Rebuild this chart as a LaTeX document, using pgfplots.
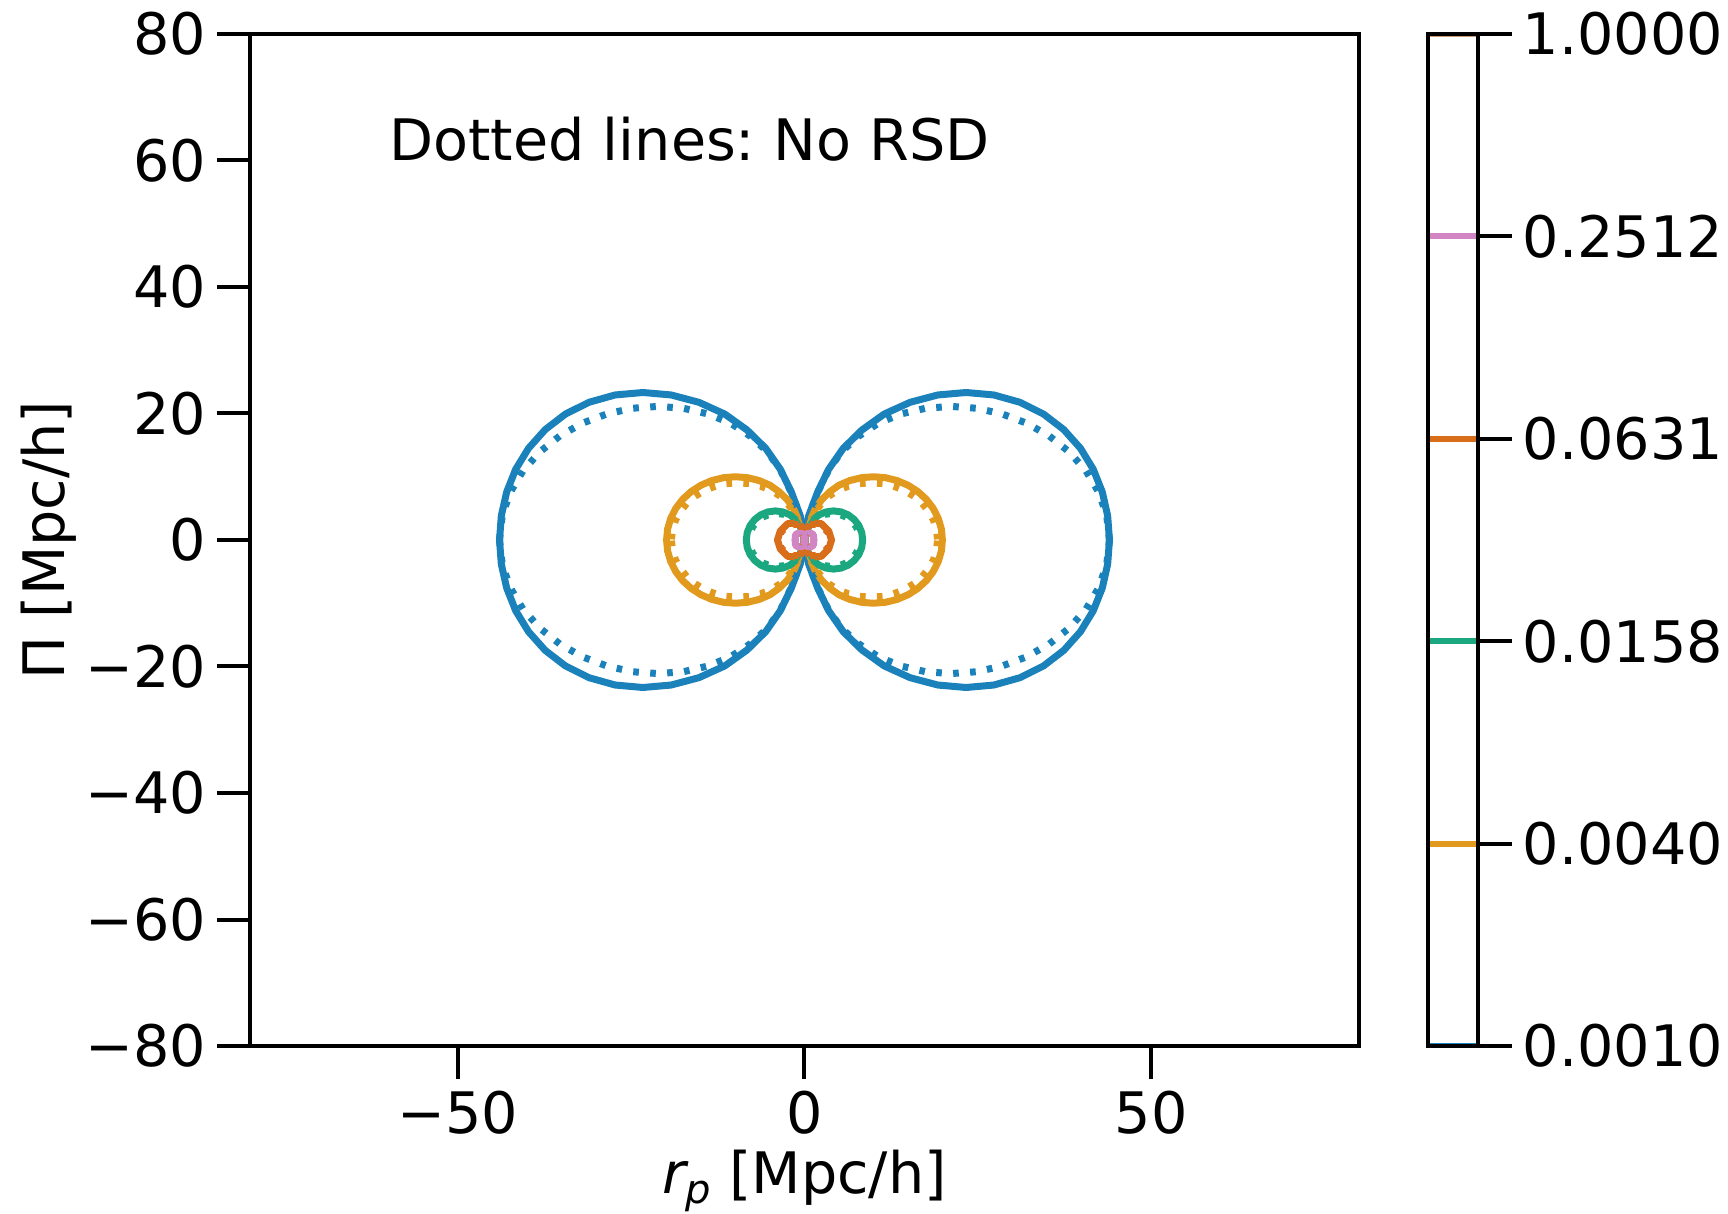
\documentclass[border=0pt]{standalone}
\usepackage{fontspec}
\setmainfont{DejaVu Sans}
\usepackage{pgfplots}
\usepackage{pgfplotstable}
\pgfplotsset{compat=1.18}

% colour-blind friendly palette
\definecolor{cbblue}{HTML}{1A81BA}
\definecolor{cborange}{HTML}{E19A1E}
\definecolor{cbgreen}{HTML}{1BA881}
\definecolor{cbred}{HTML}{D96E1A}
\definecolor{cbpink}{HTML}{D185C3}
\definecolor{cbbrown}{HTML}{CF9C71}

\newcommand{\basefont}{\fontsize{14.3}{17}\selectfont}

% Upper half of the right-hand lobe of each contour (x >= 0, y >= 0);
% the other three quarters follow by symmetry in r_p and Pi.
% level 0.0010, with RSD
\pgfplotstableread{
x y
0 0
0.6 3.8
1.9 7.6
3.5 11.2
5.6 14.5
8.3 17.4
11.50 19.91
15.24 21.77
19.24 22.93
23.32 23.32
27.32 22.93
31.09 21.77
34.49 19.91
37.41 17.45
39.82 14.49
41.67 11.17
42.97 7.58
43.74 3.83
44.0 0
}\levelAsolid
% level 0.0010, no RSD
\pgfplotstableread{
x y
0 0
0.6 3.8
1.9 7.5
3.4 10.9
5.3 13.9
7.8 16.4
10.67 18.48
13.97 19.94
17.48 20.83
21.12 21.12
24.82 20.83
28.48 19.94
32.01 18.48
35.29 16.46
38.21 13.91
40.64 10.89
42.48 7.49
43.61 3.82
44.0 0
}\levelAdot
% level 0.0040, with RSD
\pgfplotstableread{
x y
0 0
0.4 1.8
1.0 3.5
1.6 5.0
2.5 6.4
3.7 7.66
4.98 8.66
6.55 9.40
8.22 9.85
9.95 10.0
11.68 9.85
13.35 9.40
14.93 8.66
16.35 7.66
17.57 6.43
18.57 5.0
19.3 3.42
19.75 1.74
19.9 0
}\levelBsolid
% level 0.0040, no RSD
\pgfplotstableread{
x y
0 0
0.4 1.57
0.95 3.10
1.6 4.53
2.5 5.82
3.5 6.93
4.8 7.84
6.32 8.50
7.93 8.91
9.6 9.05
11.27 8.91
12.88 8.50
14.4 7.84
15.77 6.93
16.95 5.82
17.91 4.53
18.62 3.10
19.05 1.57
19.2 0
}\levelBdot
% level 0.0158, with RSD
\pgfplotstableread{
x y
0 0
0.25 1.19
0.7 2.30
1.3 3.25
2.1 3.98
3.11 4.44
4.2 4.6
5.29 4.44
6.3 3.98
7.17 3.25
7.84 2.30
8.26 1.19
8.4 0
}\levelCsolid
% level 0.0158, no RSD
\pgfplotstableread{
x y
0 0
0.25 1.09
0.68 2.1
1.25 2.97
2.0 3.64
2.96 4.06
4.0 4.2
5.04 4.06
6.0 3.64
6.83 2.97
7.46 2.1
7.86 1.09
8.0 0
}\levelCdot
% level 0.0631, with RSD
\pgfplotstableread{
x y
0 0
0.3 1.6
0.8 2.7
2.4 2.6
3.5 1.4
3.9 0
}\levelDsolid
% level 0.0631, no RSD
\pgfplotstableread{
x y
0 0
0.3 1.5
0.8 2.5
2.3 2.4
3.35 1.3
3.75 0
}\levelDdot
% level 0.2512, with RSD
\pgfplotstableread{
x y
0 0
0.1 0.8
0.4 1.05
1.0 1.05
1.3 0.8
1.35 0
}\levelEsolid
% level 0.2512, no RSD
\pgfplotstableread{
x y
0 0
0.1 0.75
0.4 1.0
0.95 1.0
1.25 0.75
1.3 0
}\levelEdot

% draw a quarter-contour table in all four quadrants
\newcommand{\fourway}[2]{%
  \addplot[#2] table[x=x, y=y] {#1};
  \addplot[#2] table[x expr=-\thisrow{x}, y=y] {#1};
  \addplot[#2] table[x=x, y expr=-\thisrow{y}] {#1};
  \addplot[#2] table[x expr=-\thisrow{x}, y expr=-\thisrow{y}] {#1};
}

\pgfplotsset{
  rsd/.style={line width=1.75pt, line cap=round, line join=round},
  norsd/.style={line width=1.75pt, line cap=butt, dash pattern=on 1.4pt off 2.85pt},
}

\begin{document}
\frenchspacing
\begin{tikzpicture}
\path[use as bounding box] (-62.5pt,-41.75pt) rectangle (369.5pt,261.5pt);

\begin{axis}[
  at={(0pt,0pt)}, anchor=south west,
  width=277.25pt, height=253pt, scale only axis,
  xmin=-80, xmax=80, ymin=-80, ymax=80,
  xtick={-50,0,50}, xticklabels={−50,0,50},
  ytick={-80,-60,-40,-20,0,20,40,60,80},
  yticklabels={−80,−60,−40,−20,0,20,40,60,80},
  tick align=outside, xtick pos=left, ytick pos=left,
  major tick length=8.25pt,
  every tick/.style={black, line width=1pt},
  axis line style={line width=1pt},
  ticklabel style={font=\basefont, inner sep=0pt},
  xticklabel style={yshift=-2.75pt},
  yticklabel style={xshift=-2.5pt},
  label style={font=\basefont, inner sep=0pt},
  xlabel={{\itshape r}\raisebox{-0.35ex}{\fontsize{10}{11}\selectfont\itshape p} [Mpc/h]},
  ylabel={Π [Mpc/h]},
  xlabel style={at={([yshift=-36.75pt]axis description cs:0.5,0)}, anchor=base},
  ylabel style={at={([xshift=-46.25pt]axis description cs:0,0.5)}, anchor=base},
]
\fourway{\levelAsolid}{rsd, cbblue}
\fourway{\levelBsolid}{rsd, cborange}
\fourway{\levelCsolid}{rsd, cbgreen}
\fourway{\levelDsolid}{rsd, cbred}
\fourway{\levelEsolid}{rsd, cbpink}
\fourway{\levelAdot}{norsd, cbblue}
\fourway{\levelBdot}{norsd, cborange}
\fourway{\levelCdot}{norsd, cbgreen}
\fourway{\levelDdot}{norsd, cbred}
\fourway{\levelEdot}{norsd, cbpink}
\node[anchor=base west, inner sep=0pt, font=\basefont] at (axis cs:-60,60) {Dotted lines: No RSD};
\end{axis}

% colour bar with one line per contour level
\begin{axis}[
  at={(294.5pt,0pt)}, anchor=south west,
  width=12.5pt, height=253pt, scale only axis,
  xmin=0, xmax=1, ymin=0, ymax=5,
  xtick=\empty,
  ytick={0,1,2,3,4,5},
  yticklabels={0.0010,0.0040,0.0158,0.0631,0.2512,1.0000},
  ytick pos=right, yticklabel pos=right,
  tick align=outside, major tick length=8.5pt,
  every tick/.style={black, line width=1pt},
  axis line style={line width=1pt},
  ticklabel style={font=\basefont, inner sep=0pt},
  yticklabel style={xshift=2.5pt},
  axis on top,
]
\addplot[cbblue, line width=1.5pt] coordinates {(0,0) (1,0)};
\addplot[cborange, line width=1.5pt] coordinates {(0,1) (1,1)};
\addplot[cbgreen, line width=1.5pt] coordinates {(0,2) (1,2)};
\addplot[cbred, line width=1.5pt] coordinates {(0,3) (1,3)};
\addplot[cbpink, line width=1.5pt] coordinates {(0,4) (1,4)};
\addplot[cbbrown, line width=1.5pt] coordinates {(0,5) (1,5)};
\end{axis}
\end{tikzpicture}
\end{document}
